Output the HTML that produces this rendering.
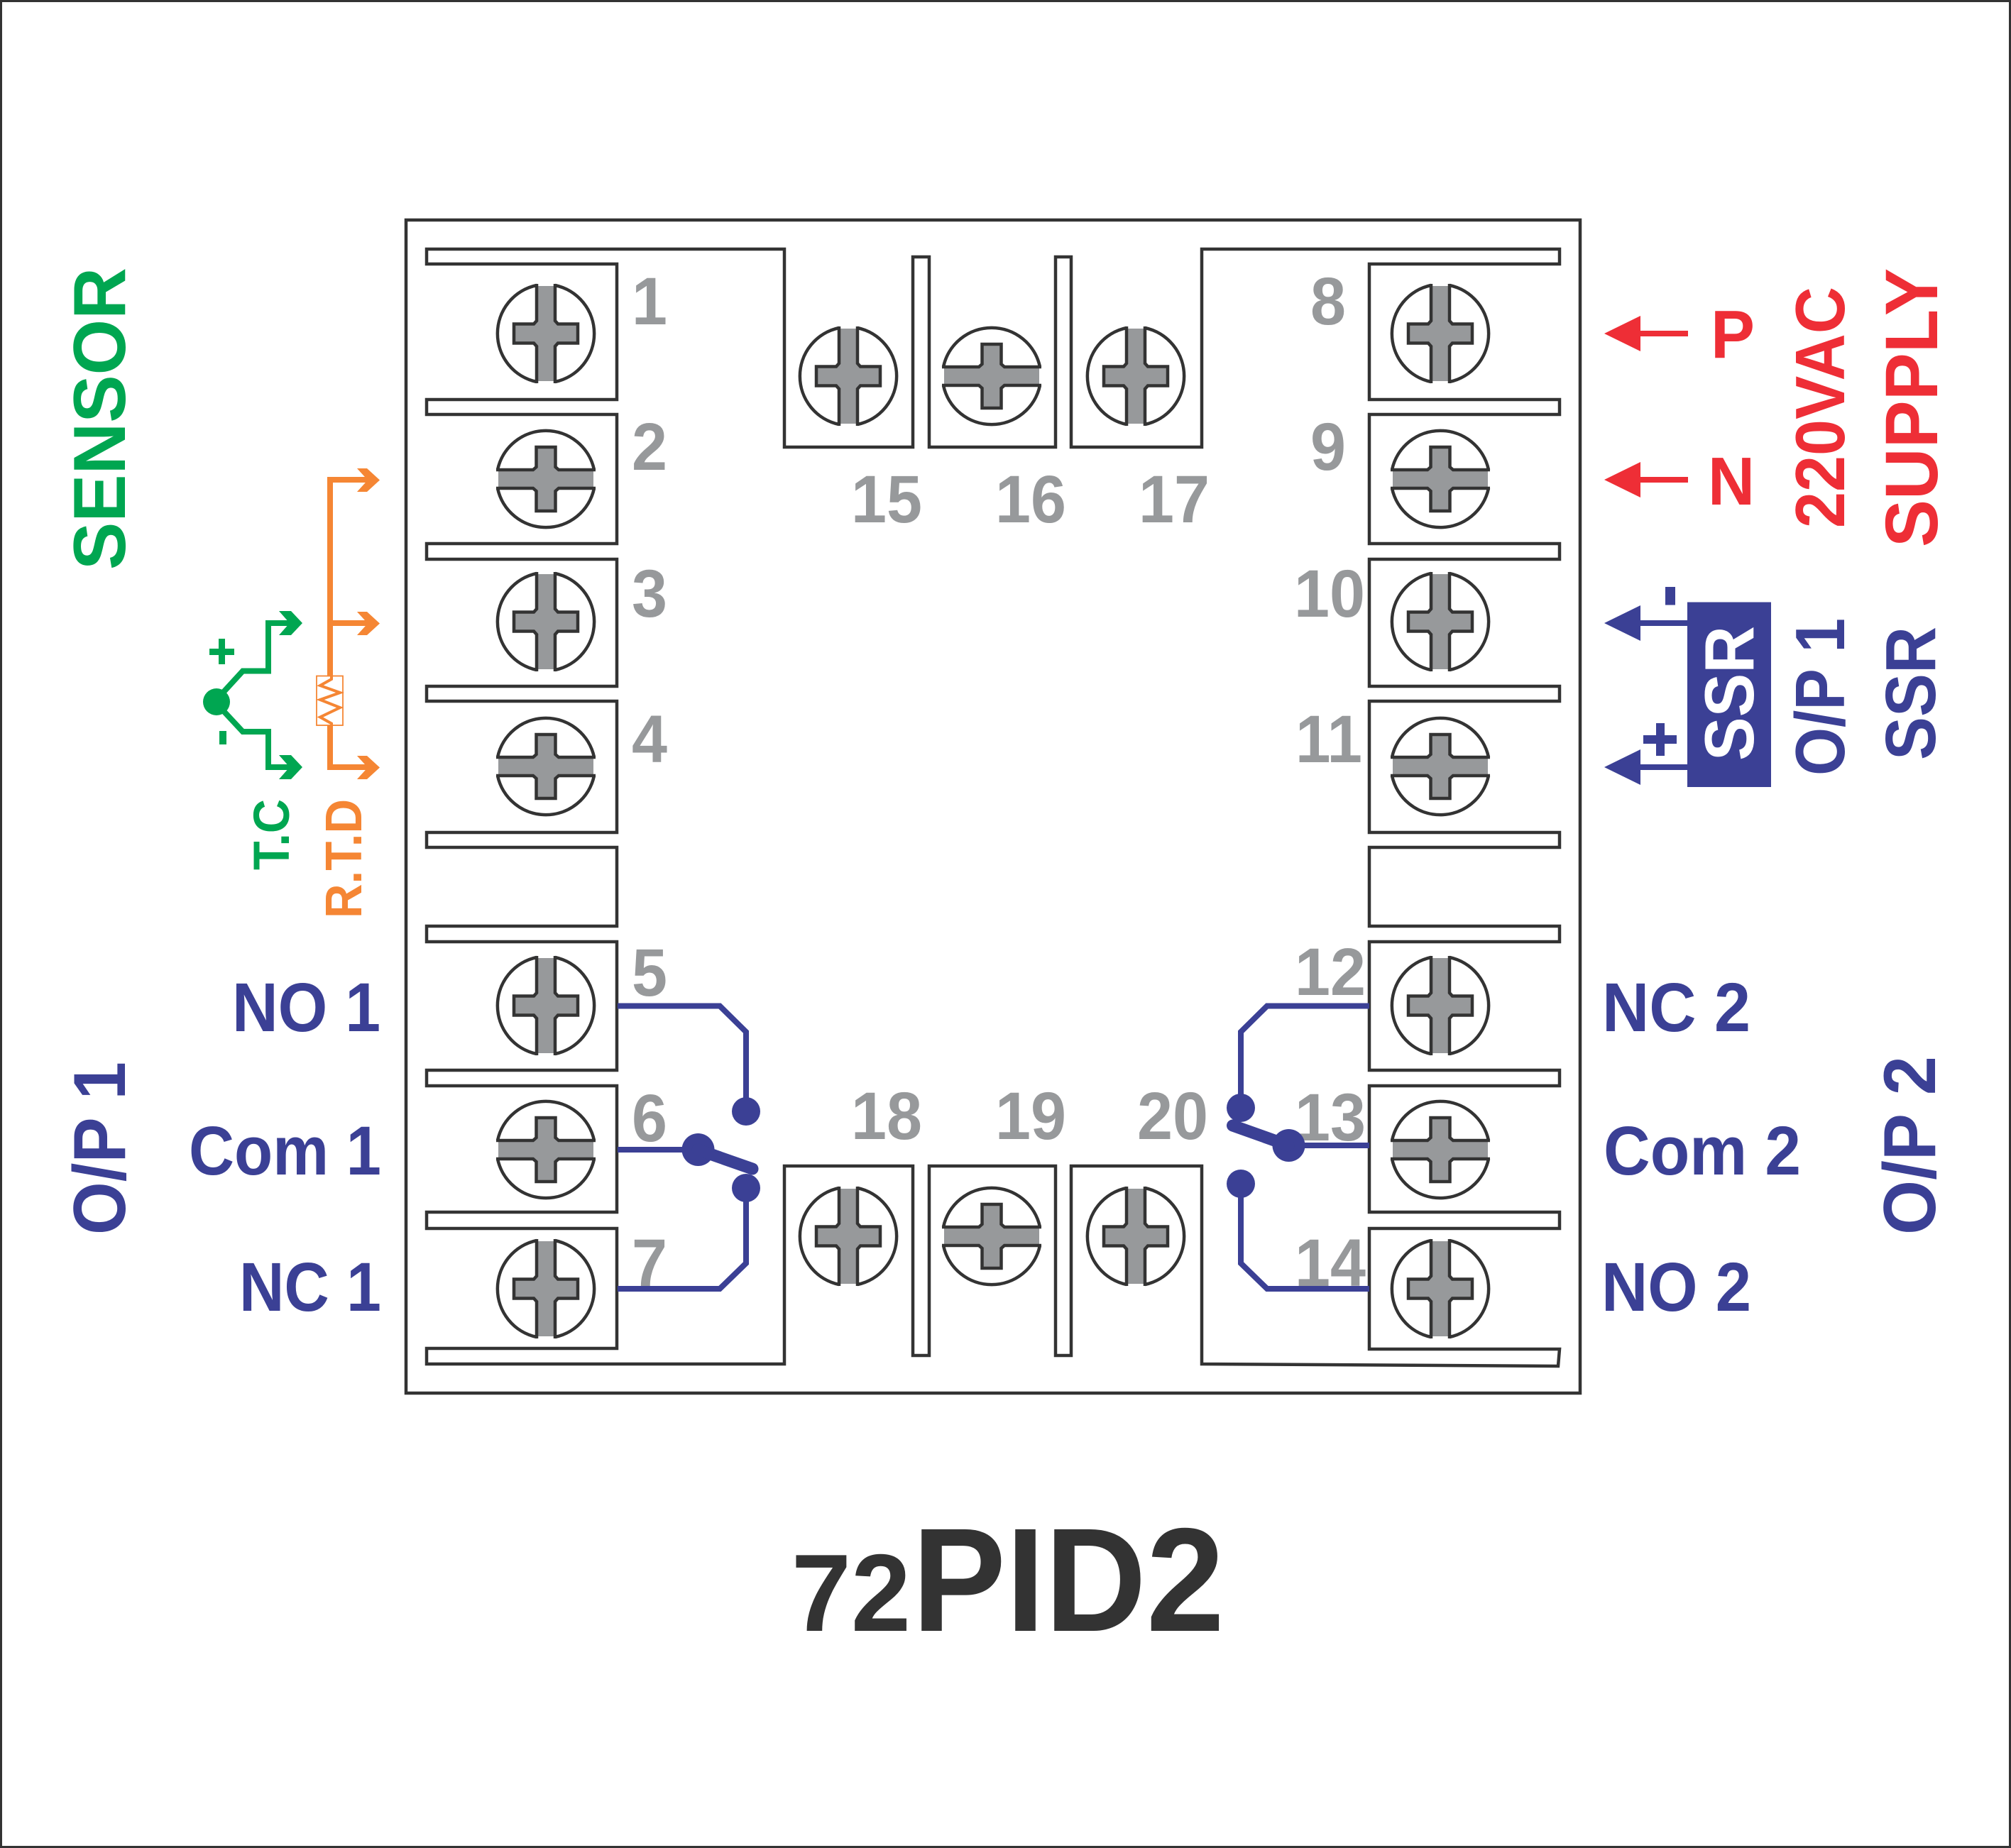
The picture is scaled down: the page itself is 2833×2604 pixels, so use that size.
<!DOCTYPE html>
<html><head><meta charset="utf-8"><style>
html,body{margin:0;padding:0;background:#fff}
svg{display:block}
text{font-family:"Liberation Sans",sans-serif;font-weight:bold}
.n{fill:#97999b;font-size:95px}
.b{fill:#3b4095}
.g{fill:#00a651}
.o{fill:#f58634}
.r{fill:#ee2e36}
</style></head><body>
<svg xmlns="http://www.w3.org/2000/svg" width="2833" height="2604" viewBox="0 0 2833 2604">
<defs>
<g id="v">
<path d="M-12.5,-67 V-18 L-17,-13.5 H-45 V13.5 H-17 L-12.5,18 V67 H12.5 V18 L17,13.5 H45 V-13.5 H17 L12.5,-18 V-67 Z" fill="#97999b"/>
<path d="M-13,-68 A69.5,69.5 0 0 0 -13,68 M13,-68 A69.5,69.5 0 0 1 13,68 M-13,-70 V-18 L-17,-13.5 H-45 V13.5 H-17 L-13,18 V70 M13,-70 V-18 L17,-13.5 H45 V13.5 H17 L13,18 V70" fill="none" stroke="#333" stroke-width="4.5"/>
</g>
<g id="h"><use href="#v" transform="rotate(90)"/></g>
</defs>
<rect width="2833" height="2604" fill="#fff"/>
<rect x="1.5" y="1.5" width="2830" height="2601" fill="none" stroke="#333" stroke-width="3"/>
<rect x="572" y="310" width="1654" height="1653" fill="none" stroke="#333" stroke-width="4.5"/>
<g fill="none" stroke="#333" stroke-width="4.5">
<path d="M1105,351 H601 V372 H869 V563 H601 V584 H869 V766 H601 V788 H869 V967 H601 V988 H869 V1173 H601 V1194 H869 V1305 H601 V1327 H869 V1508 H601 V1530 H869 V1708 H601 V1731 H869 V1900 H601 V1922 H1105 V1643 H1286 V1910 H1309 V1643 H1487 V1910 H1509 V1643 H1693 V1922 L2195,1925 L2197,1901 H1929 V1731 H2197 V1708 H1929 V1530 H2197 V1508 H1929 V1327 H2197 V1305 H1929 V1194 H2197 V1173 H1929 V988 H2197 V967 H1929 V788 H2197 V766 H1929 V584 H2197 V563 H1929 V372 H2197 V351 H1693 V630 H1509 V362 H1487 V630 H1309 V362 H1286 V630 H1105 Z"/>
</g>
<use href="#v" x="769" y="470"/><use href="#h" transform="translate(769,675)"/><use href="#v" x="769" y="876"/><use href="#h" transform="translate(769,1080)"/><use href="#v" x="769" y="1417"/><use href="#h" transform="translate(769,1620)"/><use href="#v" x="769" y="1816"/>
<use href="#v" x="2029" y="470"/><use href="#h" transform="translate(2029,675)"/><use href="#v" x="2029" y="876"/><use href="#h" transform="translate(2029,1080)"/><use href="#v" x="2029" y="1417"/><use href="#h" transform="translate(2029,1620)"/><use href="#v" x="2029" y="1816"/>
<use href="#v" x="1195" y="530"/><use href="#h" transform="translate(1397,530)"/><use href="#v" x="1600" y="530"/>
<use href="#v" x="1195" y="1742"/><use href="#h" transform="translate(1397,1742)"/><use href="#v" x="1600" y="1742"/>

<text class="n" x="890" y="457" textLength="50" lengthAdjust="spacingAndGlyphs">1</text>
<text class="n" x="890" y="662" textLength="50" lengthAdjust="spacingAndGlyphs">2</text>
<text class="n" x="890" y="869" textLength="50" lengthAdjust="spacingAndGlyphs">3</text>
<text class="n" x="890" y="1074" textLength="50" lengthAdjust="spacingAndGlyphs">4</text>
<text class="n" x="890" y="1403" textLength="50" lengthAdjust="spacingAndGlyphs">5</text>
<text class="n" x="890" y="1608" textLength="50" lengthAdjust="spacingAndGlyphs">6</text>
<text class="n" x="890" y="1812" textLength="50" lengthAdjust="spacingAndGlyphs">7</text>
<text class="n" x="1846" y="457" textLength="50" lengthAdjust="spacingAndGlyphs">8</text>
<text class="n" x="1846" y="662" textLength="50" lengthAdjust="spacingAndGlyphs">9</text>
<text class="n" x="1823" y="869" textLength="100" lengthAdjust="spacingAndGlyphs">10</text>
<text class="n" x="1825" y="1074" textLength="94" lengthAdjust="spacingAndGlyphs">11</text>
<text class="n" x="1824" y="1402" textLength="100" lengthAdjust="spacingAndGlyphs">12</text>
<text class="n" x="1824" y="1607" textLength="100" lengthAdjust="spacingAndGlyphs">13</text>
<text class="n" x="1824" y="1812" textLength="100" lengthAdjust="spacingAndGlyphs">14</text>
<text class="n" x="1199" y="736" textLength="100" lengthAdjust="spacingAndGlyphs">15</text>
<text class="n" x="1402" y="736" textLength="100" lengthAdjust="spacingAndGlyphs">16</text>
<text class="n" x="1604" y="736" textLength="100" lengthAdjust="spacingAndGlyphs">17</text>
<text class="n" x="1199" y="1605" textLength="100" lengthAdjust="spacingAndGlyphs">18</text>
<text class="n" x="1402" y="1605" textLength="100" lengthAdjust="spacingAndGlyphs">19</text>
<text class="n" x="1602" y="1605" textLength="100" lengthAdjust="spacingAndGlyphs">20</text>

<!-- relay wiring -->
<g fill="none" stroke="#3b4095" stroke-width="8">
<path d="M870,1417.5 H1014 L1051,1454 V1566"/>
<path d="M870,1620 H983"/>
<path d="M1051,1674 V1780 L1014,1816 H870"/>
<path d="M1929,1417.5 H1785 L1748,1454 V1561"/>
<path d="M1929,1614 H1815"/>
<path d="M1748,1668 V1780 L1785,1816 H1929"/>
</g>
<g fill="#3b4095">
<circle cx="1051" cy="1566" r="20"/><circle cx="983.5" cy="1620" r="23"/><circle cx="1051" cy="1674" r="20"/>
<circle cx="1748" cy="1561" r="20"/><circle cx="1815.5" cy="1614" r="23"/><circle cx="1748" cy="1668" r="20"/>
</g>
<path d="M983,1620 L1060,1647 M1815,1614 L1736.5,1586" fill="none" stroke="#3b4095" stroke-width="17" stroke-linecap="round"/>

<!-- sensor -->
<g fill="none" stroke="#f58634" stroke-width="8">
<path d="M520,676 H465 V1081 H520 M465,878 H520"/>
</g>
<g fill="#f58634">
<polygon points="503,660 517,660 535,676.5 517,693 503,693 518,676.5"/>
<polygon points="503,862 517,862 535,878.5 517,895 503,895 518,878.5"/>
<polygon points="503,1065 517,1065 535,1081.5 517,1098 503,1098 518,1081.5"/>
</g>
<rect x="446" y="952.5" width="37" height="69.5" fill="#fff" stroke="#f58634" stroke-width="1.8"/>
<polyline points="467,952 467,957 451,966 479,976 451,986 479,997 451,1010.5 467,1019.5 467,1024" fill="none" stroke="#f58634" stroke-width="4"/>
<g fill="none" stroke="#00a651" stroke-width="8">
<path d="M315,975 L342,945.5 H378 V878 H412"/>
<path d="M315,1002 L342,1031 H378 V1081 H412"/>
</g>
<g fill="#00a651">
<circle cx="305" cy="989" r="19"/>
<polygon points="393,861 410,861 426,878 410,895 393,895 408,878"/>
<polygon points="393,1064 410,1064 426,1081 410,1098 393,1098 408,1081"/>
<rect x="295" y="914" width="35" height="9"/><rect x="308" y="900" width="9" height="36"/>
<rect x="309" y="1030" width="10" height="19"/>
</g>
<text class="g" transform="translate(407,1226) rotate(-90)" font-size="71" textLength="100" lengthAdjust="spacingAndGlyphs">T.C</text>
<text class="o" transform="translate(509,1294) rotate(-90)" font-size="72" textLength="168" lengthAdjust="spacingAndGlyphs">R.T.D</text>
<text class="g" transform="translate(176,803) rotate(-90)" font-size="104" textLength="426" lengthAdjust="spacingAndGlyphs">SENSOR</text>
<text class="b" transform="translate(176,1740) rotate(-90)" font-size="104" textLength="244" lengthAdjust="spacingAndGlyphs">O/P 1</text>
<text class="b" transform="translate(2726,1740) rotate(-90)" font-size="104" textLength="252" lengthAdjust="spacingAndGlyphs">O/P 2</text>

<!-- left/right labels -->
<text class="b" x="327" y="1453" font-size="97" textLength="209" lengthAdjust="spacingAndGlyphs">NO 1</text>
<text class="b" x="266" y="1655" font-size="97" textLength="271" lengthAdjust="spacingAndGlyphs">Com 1</text>
<text class="b" x="337" y="1847" font-size="97" textLength="200" lengthAdjust="spacingAndGlyphs">NC 1</text>
<text class="b" x="2257" y="1453" font-size="97" textLength="209" lengthAdjust="spacingAndGlyphs">NC 2</text>
<text class="b" x="2259" y="1655" font-size="97" textLength="278" lengthAdjust="spacingAndGlyphs">Com 2</text>
<text class="b" x="2256" y="1847" font-size="97" textLength="211" lengthAdjust="spacingAndGlyphs">NO 2</text>

<!-- right block -->
<g fill="#ee2e36">
<polygon points="2260,470 2311,445 2311,495"/><rect x="2305" y="466" width="73" height="8"/>
<polygon points="2260,676 2311,651 2311,701"/><rect x="2305" y="672" width="73" height="8"/>
</g>
<text class="r" x="2410" y="504" font-size="96" textLength="62" lengthAdjust="spacingAndGlyphs">P</text>
<text class="r" x="2406" y="711" font-size="96" textLength="66" lengthAdjust="spacingAndGlyphs">N</text>
<g fill="#3b4095">
<polygon points="2260,878 2311,853 2311,903"/><rect x="2305" y="874" width="73" height="8"/>
<polygon points="2260,1081 2311,1056 2311,1106"/><rect x="2305" y="1077" width="73" height="8"/>
<rect x="2377" y="848.5" width="118" height="260.5"/>
<rect x="2346" y="827" width="14" height="25.5"/>
<rect x="2315" y="1036" width="47" height="12"/><rect x="2333" y="1019" width="12" height="46"/>
</g>
<text fill="#fff" transform="translate(2470,1072) rotate(-90)" font-size="98" textLength="190" lengthAdjust="spacingAndGlyphs">SSR</text>
<text class="r" transform="translate(2598,744) rotate(-90)" font-size="98" textLength="340" lengthAdjust="spacingAndGlyphs">220VAC</text>
<text class="b" transform="translate(2598,1093) rotate(-90)" font-size="98" textLength="222" lengthAdjust="spacingAndGlyphs">O/P 1</text>
<text class="r" transform="translate(2729,771) rotate(-90)" font-size="105" textLength="393" lengthAdjust="spacingAndGlyphs">SUPPLY</text>
<text class="b" transform="translate(2726,1071) rotate(-90)" font-size="100" textLength="188" lengthAdjust="spacingAndGlyphs">SSR</text>

<!-- title -->
<text fill="#333" x="1115" y="2298" font-size="155" textLength="168" lengthAdjust="spacingAndGlyphs">72</text>
<text fill="#333" x="1285" y="2298" font-size="208" textLength="440" lengthAdjust="spacingAndGlyphs">PID2</text>
</svg>
</body></html>
